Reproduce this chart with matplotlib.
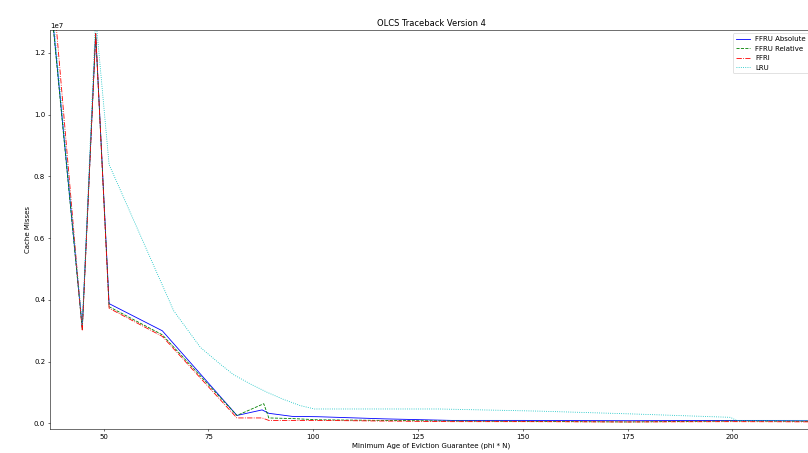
import matplotlib
matplotlib.use("Agg")
import matplotlib.pyplot as plt

# Cache misses vs. minimum age of eviction guarantee (values in units of 1e7)
x_ffru_abs = [36, 44.9, 48.1, 51.3, 64.0, 81.8, 87.8, 89.4, 95, 101, 117, 133, 150, 175, 200, 225]
y_ffru_abs = [1.567, 0.310, 1.262, 0.388, 0.300, 0.026, 0.044, 0.033, 0.023, 0.022,
              0.015, 0.010, 0.010, 0.009, 0.010, 0.008]

x_ffru_rel = [36, 44.9, 48.1, 51.3, 64.0, 81.8, 88.2, 89.4, 95, 101, 117, 133, 150, 175, 200, 225]
y_ffru_rel = [1.560, 0.305, 1.262, 0.378, 0.287, 0.026, 0.064, 0.018, 0.016, 0.012,
              0.010, 0.008, 0.007, 0.005, 0.008, 0.007]

x_ffri = [36, 44.9, 48.1, 51.3, 64.0, 81.8, 87.8, 89.4, 95, 101, 117, 133, 150, 175, 200, 225]
y_ffri = [1.712, 0.300, 1.262, 0.373, 0.282, 0.018, 0.018, 0.010, 0.010, 0.010,
          0.008, 0.006, 0.006, 0.005, 0.006, 0.005]

x_lru = [36, 44.9, 48.1, 51.3, 66.7, 73.1, 78, 81.0, 85, 89, 92.9, 96.9, 100.3,
         130, 154, 176, 199.5, 201, 225]
y_lru = [1.600, 0.320, 1.316, 0.838, 0.365, 0.246, 0.190, 0.158, 0.128, 0.101, 0.078,
         0.058, 0.047, 0.047, 0.040, 0.031, 0.020, 0.010, 0.010]

x_ticks = [50, 75, 100, 125, 150, 175, 200]

fig = plt.figure(figsize=(16.16, 9.06), dpi=50)
ax = fig.add_axes([50 / 808, 24 / 453, 762 / 808, 399 / 453])

lw = 1.2
ax.plot(x_ffru_abs, [v * 1e7 for v in y_ffru_abs], 'b-', lw=lw, label='FFRU Absolute')
ax.plot(x_ffru_rel, [v * 1e7 for v in y_ffru_rel], 'g--', lw=lw, label='FFRU Relative')
ax.plot(x_ffri, [v * 1e7 for v in y_ffri], 'r-.', lw=lw, label='FFRI')
ax.plot(x_lru, [v * 1e7 for v in y_lru], 'c:', lw=lw, label='LRU')

ax.set_xlim(37.2, 219.0)
ax.set_ylim(-0.0178e7, 1.2735e7)
ax.set_xticks(x_ticks)

ax.set_title('OLCS Traceback Version 4')
ax.set_xlabel('Minimum Age of Eviction Guarantee (phi * N)')
ax.set_ylabel('Cache Misses')
ax.legend(loc='upper right')

fig.savefig('out.png', dpi=50)
